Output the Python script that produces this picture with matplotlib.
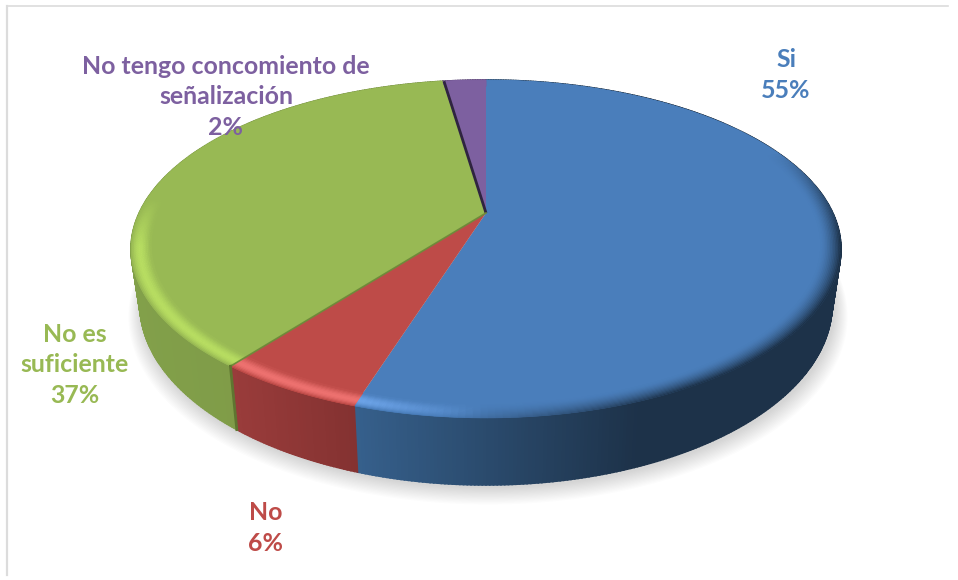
import numpy as np
import matplotlib
matplotlib.use("Agg")
import matplotlib.pyplot as plt
from matplotlib.colors import to_rgb
from matplotlib.patches import Polygon

# data
names = ["Si", "No", "No es\nsuficiente", "No tengo concomiento de\nseñalización"]
shares = [54.9, 5.6, 37.1, 2.4]
colors = ["#4a7ebb", "#be4b48", "#98b954", "#7d60a0"]
glow_colors = ["#6ea5ea", "#ee7270", "#b8de62", "#9a7cc0"]
side_left = ["#36608c", "#9a3c3b", "#82a04a", "#5f4879"]
side_right = ["#1d3249", "#843231", "#7a9444", "#5f4879"]
label_x = [786, 266, 75, 226]
label_y = [75, 528, 365, 97]

plt.rcParams["font.family"] = ["Lato", "DejaVu Sans"]
fig = plt.figure(figsize=(9.58, 5.8), dpi=100)
ax = fig.add_axes([0, 0, 1, 1])
ax.set_xlim(0, 958)
ax.set_ylim(580, 0)
ax.axis("off")

# chart frame
ax.plot([7, 7], [575, 6], color="#dcdcdc", lw=1.6)
ax.plot([7, 948], [6, 6], color="#dcdcdc", lw=1.2)

cx, cy = 486, 213
a, b, k = 346.8, 161.3, 0.213


def rim(theta, r=1.0):
    # perspective projection of the disc, theta clockwise from the top
    X = r * np.sin(theta)
    Y = r * np.cos(theta)
    w = 1 + k * Y
    return cx + a * X / w, cy - b * Y / w


def low_rim(theta):
    # lower edge of the wall sits a bit narrower than the top
    x, y = rim(theta)
    return cx + (x - cx) * 0.975, y + 52.7 / (1 + k * np.cos(theta))


def mix(c1, c2, t):
    c1, c2 = np.array(to_rgb(c1)), np.array(to_rgb(c2))
    return tuple(c1 + (c2 - c1) * t)


def ramp(v, lo, hi):
    return min(1.0, max(0.0, (v - lo) / (hi - lo)))


all_t = np.linspace(0, 2 * np.pi, 361)

# soft shadow under the pie
for i in range(14):
    sx, sy = low_rim(all_t)
    grow = 1 + (14 - i) * 0.0028
    ax.add_patch(Polygon(np.c_[cx + (sx - cx) * grow + 2,
                               cy + (sy - cy) * grow + 2 + (14 - i) * 0.5],
                         fc="black", ec="none", alpha=0.012, zorder=1))

edges = 2 * np.pi * np.cumsum([0] + shares) / sum(shares)

# side wall, as thin strips
for i in range(len(shares)):
    ts = np.arange(edges[i], edges[i + 1], np.radians(0.5))
    ts = np.append(ts, edges[i + 1])
    xs = rim(ts)[0]
    lo, hi = xs.min(), xs.max()
    for j in range(len(ts) - 1):
        t0, t1 = ts[j], ts[j + 1]
        x0, y0 = rim(t0)
        x1, y1 = rim(t1)
        lx0, ly0 = low_rim(t0)
        lx1, ly1 = low_rim(t1)
        if i == 0:
            f = ramp(x0, 356, 640)
        else:
            f = (x0 - lo) / max(hi - lo, 1)
        c = mix(side_left[i], side_right[i], f)
        ax.add_patch(Polygon([[x0, y0], [x1, y1], [lx1, ly1], [lx0, ly0]],
                             fc=c, ec=c, lw=1.2, zorder=2))

# top face with bevel rings around the edge
for i in range(len(shares)):
    ts = np.linspace(edges[i], edges[i + 1], 200)
    x, y = rim(ts)
    pts = np.r_[[[cx, cy]], np.c_[x, y]]
    ax.add_patch(Polygon(pts, fc=colors[i], ec="none", zorder=3))
    rs = np.linspace(1.0, 0.945, 14)
    for j in range(len(rs) - 1):
        depth = 1 - j / (len(rs) - 1)
        for t0, t1 in zip(ts[:-1], ts[1:]):
            mid = (t0 + t1) / 2
            side = np.sin(mid)
            front = -np.cos(mid)
            # dark on the right, light on the front and left
            dark = depth ** 1.6 * ramp(np.cos(mid - 2.2), 0.5, 0.9)
            light = np.sin(np.pi * depth ** 1.3) * ramp(side, 0.0, -0.3) * ramp(front, -0.1, 0.2)
            tone = mix(colors[i], "#1d3249", dark)
            tone = mix(tone, glow_colors[i], light)
            xa, ya = rim(np.array([t0, t1]), rs[j])
            xb, yb = rim(np.array([t1, t0]), rs[j + 1])
            ax.add_patch(Polygon(np.c_[np.r_[xa, xb], np.r_[ya, yb]], fc=tone, ec=tone,
                                 lw=0.4, zorder=4))

# slice separators
ex, ey = rim(edges[3])
ax.plot([cx, ex + 1], [cy, ey], color="#2f2440", lw=2.0, zorder=5, solid_capstyle="butt")
ex, ey = rim(edges[2])
ax.plot([cx, ex], [cy, ey], color="#6f8a3a", lw=1.2, zorder=5)
lx, ly = low_rim(edges[2])
ax.plot([ex, lx], [ey, ly], color="#5f7530", lw=2.0, zorder=5)

# labels
for i in range(len(shares)):
    ax.text(label_x[i], label_y[i], "%s\n%d%%" % (names[i], round(shares[i])),
            color=colors[i], fontsize=17.9, fontweight="bold", ha="center", va="center",
            linespacing=1.38, zorder=6)

fig.savefig("out.png", dpi=100)
